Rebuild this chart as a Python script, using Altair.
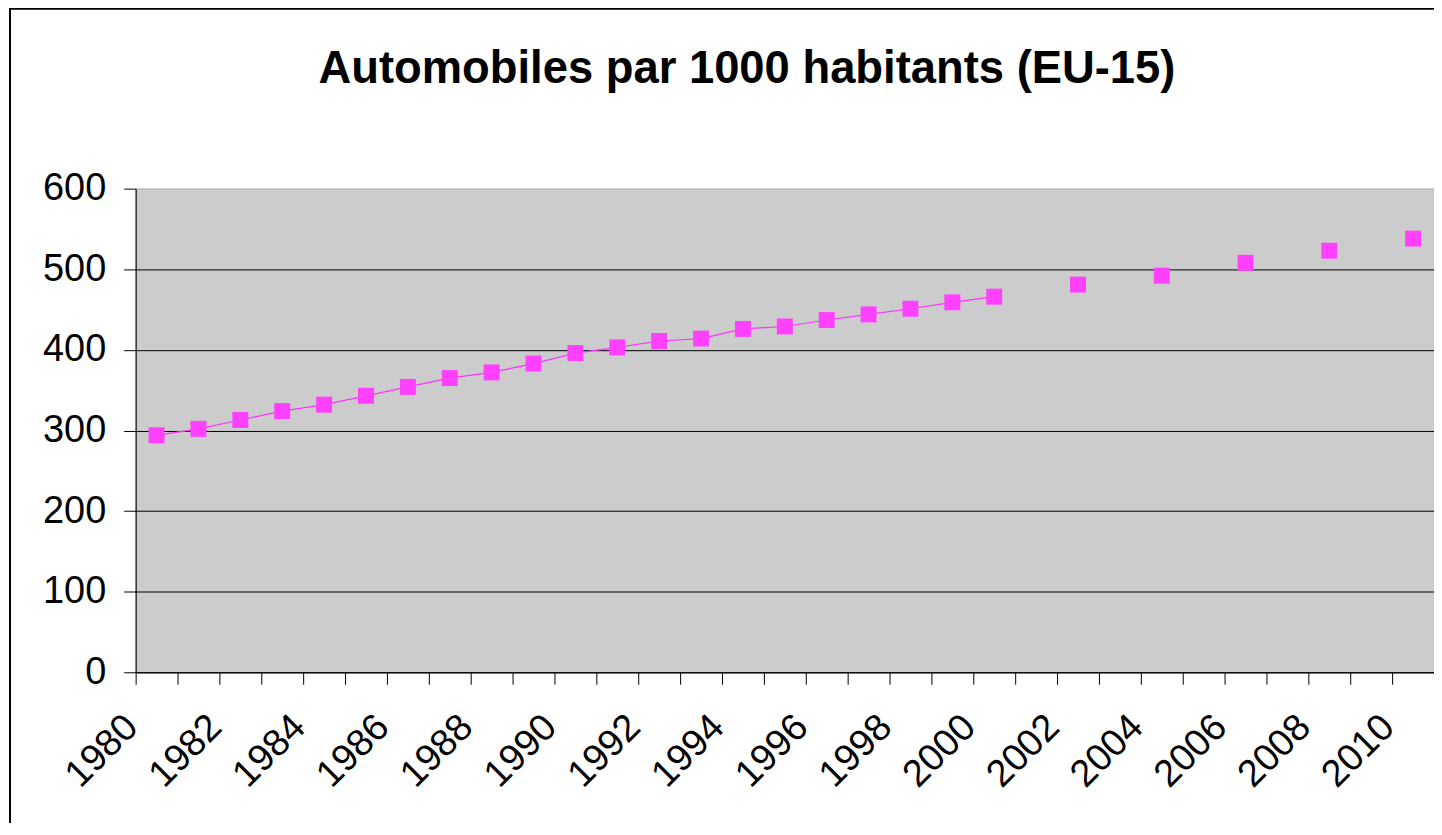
import altair as alt
import pandas as pd

title_text = "Automobiles par 1000 habitants (EU-15)"

years = [1980, 1981, 1982, 1983, 1984, 1985, 1986, 1987, 1988, 1989, 1990,
         1991, 1992, 1993, 1994, 1995, 1996, 1997, 1998, 1999, 2000,
         2002, 2004, 2006, 2008, 2010]
cars_per_1000 = [294, 302, 313, 324, 332, 343, 354, 365, 372, 383, 396,
                 403, 411, 414, 426, 429, 437, 444, 451, 459, 466,
                 481, 492, 508, 523, 538]
year_categories = [1980, 1981, 1982, 1983, 1984, 1985, 1986, 1987, 1988, 1989,
                   1990, 1991, 1992, 1993, 1994, 1995, 1996, 1997, 1998, 1999,
                   2000, 2001, 2002, 2003, 2004, 2005, 2006, 2007, 2008, 2009, 2010]
y_ticks = [0, 100, 200, 300, 400, 500, 600]

df = pd.DataFrame({"year": years, "value": cars_per_1000})

FONT = "Liberation Sans"
W, H = 1302, 485

x_enc = alt.X(
    "year:O",
    scale=alt.Scale(domain=year_categories, paddingInner=0, paddingOuter=0),
    axis=alt.Axis(
        title=None,
        tickBand="extent",
        ticks=True,
        tickSize=12,
        tickColor="black",
        tickWidth=1,
        domainColor="black",
        domainWidth=1,
        labelAngle=315,
        labelAlign="right",
        labelBaseline="middle",
        labelFont=FONT,
        labelFontSize=38,
        labelColor="black",
        labelPadding=37,
        labelOffset=-25,
        labelOverlap=False,
        labelBound=False,
        labelExpr="datum.value % 2 == 0 ? datum.label : ''",
    ),
)

y_enc = alt.Y(
    "value:Q",
    scale=alt.Scale(domain=[0, 600], nice=False, zero=True),
    axis=alt.Axis(
        title=None,
        values=y_ticks,
        grid=True,
        gridColor={"condition": {"test": "datum.value === 600", "value": "#CCCCCC"}, "value": "black"},
        gridWidth=1,
        ticks=True,
        tickSize=12,
        tickColor="black",
        domainColor="black",
        labelFont=FONT,
        labelFontSize=38,
        labelColor="black",
        labelPadding=18,
        labelBaseline="middle",
    ),
)

base = alt.Chart(df)

line = base.transform_filter("datum.year <= 2000").mark_line(
    color="#FF33FF", strokeWidth=1.2
).encode(x=x_enc, y=y_enc)

points = base.mark_square(
    color="#FF40FF", size=256, opacity=1, filled=True
).encode(x=x_enc, y=y_enc)

frame = alt.Chart(pd.DataFrame({"a": [0]})).mark_rect(
    fill="white", fillOpacity=0, stroke="black", strokeWidth=2
).encode(
    x=alt.value(-126), x2=alt.value(W + 20),
    y=alt.value(-180.5), y2=alt.value(H + 200),
)

title = alt.Chart(pd.DataFrame({"t": [title_text]})).mark_text(
    font=FONT, fontSize=45.5, fontWeight="bold", color="black",
    align="center", baseline="alphabetic",
).encode(
    text="t:N",
    x=alt.value(613),
    y=alt.value(-106),
)

chart = alt.layer(line, points, frame, title).properties(
    width=W,
    height=H,
    autosize=alt.AutoSizeParams(type="none"),
    padding={"left": 128, "top": 180, "right": 0, "bottom": 150},
    background="white",
).configure_view(
    fill="#CCCCCC",
    stroke="#808080",
    strokeWidth=1,
)

chart.save("out.html", embed_options={"renderer": "svg", "actions": False})
